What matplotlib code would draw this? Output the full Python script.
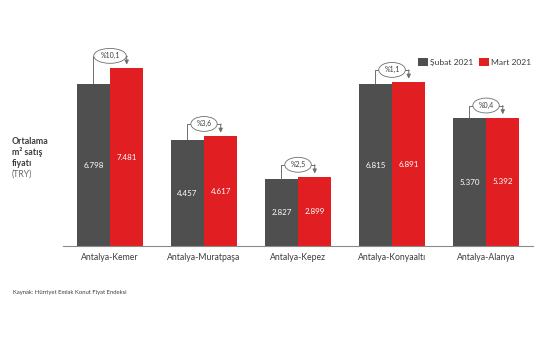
import matplotlib as mpl
import numpy as np
from matplotlib import pyplot as plt

mpl.use("Agg")

# * -------------------------------------------------------------------------------- * #
# * DATA

districts = [
    "Antalya-Kemer",
    "Antalya-Muratpaşa",
    "Antalya-Kepez",
    "Antalya-Konyaaltı",
    "Antalya-Alanya",
]
subat_2021 = [6798, 4457, 2827, 6815, 5370]
mart_2021 = [7481, 4617, 2899, 6891, 5392]
change_labels = ["%10,1", "%3,6", "%2,5", "%1,1", "%0,4"]
series_names = ["Şubat 2021", "Mart 2021"]
ylabel_lines = ["Ortalama", "m² satış", "fiyatı", "(TRY)"]

# * -------------------------------------------------------------------------------- * #
# * STYLE

GREY = "#4f4f4f"
RED = "#e11f22"
LINE = "#6e6e6e"
TEXT = "#3c3c3c"
plt.rcParams["font.family"] = ["Lato", "DejaVu Sans"]

# * -------------------------------------------------------------------------------- * #
# * PLOT

fig = plt.figure(figsize=(5.55, 3.55), dpi=100)
ax = fig.add_axes((0.1135, 0.307, 0.847, 0.569))

x = np.arange(len(districts))
width = 0.355

bars_a = ax.bar(x - width / 2, subat_2021, width, color=GREY, label=series_names[0])
bars_b = ax.bar(x + width / 2, mart_2021, width, color=RED, label=series_names[1])

# Values inside the bars
for bars, vals in ((bars_a, subat_2021), (bars_b, mart_2021)):
    for bar, v in zip(bars, vals, strict=True):
        ax.text(
            bar.get_x() + bar.get_width() / 2,
            v / 2,
            f"{v:,}".replace(",", "."),
            ha="center",
            va="center",
            color="white",
            fontsize=5.8,
        )

# Change brackets
for xi, a, b, lab in zip(x, subat_2021, mart_2021, change_labels, strict=True):
    xa, xb = xi - width / 2, xi + width / 2
    top = b + 520
    ax.plot([xa, xa, xb], [a, top, top], color=LINE, lw=0.7, solid_capstyle="butt")
    ax.annotate(
        "",
        xy=(xb, b + 150),
        xytext=(xb, top),
        arrowprops=dict(arrowstyle="-|>,head_length=0.25,head_width=0.12", color=LINE, lw=0.7,
                        shrinkA=0, shrinkB=0),
    )
    ax.text(
        xi,
        top,
        lab,
        ha="center",
        va="center",
        fontsize=5,
        color=TEXT,
        bbox=dict(boxstyle="ellipse,pad=0.25", fc="white", ec=LINE, lw=0.6),
    )

ax.set_xlim(-0.5, 4.5)
ax.set_ylim(0, 8500)
ax.set_xticks(x, districts)
ax.tick_params(axis="x", length=0, pad=5, labelsize=6.2, labelcolor=TEXT)
ax.set_yticks([])
for side in ("top", "right", "left"):
    ax.spines[side].set_visible(False)
ax.spines["bottom"].set_color("#8a8a8a")
ax.spines["bottom"].set_linewidth(0.8)

# Legend
ax.legend(
    loc="center left",
    bbox_to_anchor=(0.747, 0.91),
    ncol=2,
    frameon=False,
    fontsize=6.1,
    handlelength=1.1,
    handleheight=1.1,
    handletextpad=0.3,
    columnspacing=0.7,
    borderpad=0,
    labelcolor=TEXT,
)

# Y label
for i, line in enumerate(ylabel_lines):
    last = i == len(ylabel_lines) - 1
    fig.text(
        0.021,
        1 - (141 + 11 * i) / 355,
        line,
        ha="left",
        va="center",
        fontsize=6.3,
        fontweight="normal" if last else "bold",
        color="#666666" if last else TEXT,
    )

# Source
fig.text(0.023, 0.177, "Kaynak: Hürriyet Emlak Konut Fiyat Endeksi", ha="left", va="center",
         fontsize=4.2, color=TEXT)

fig.savefig("out.png", dpi=100)
